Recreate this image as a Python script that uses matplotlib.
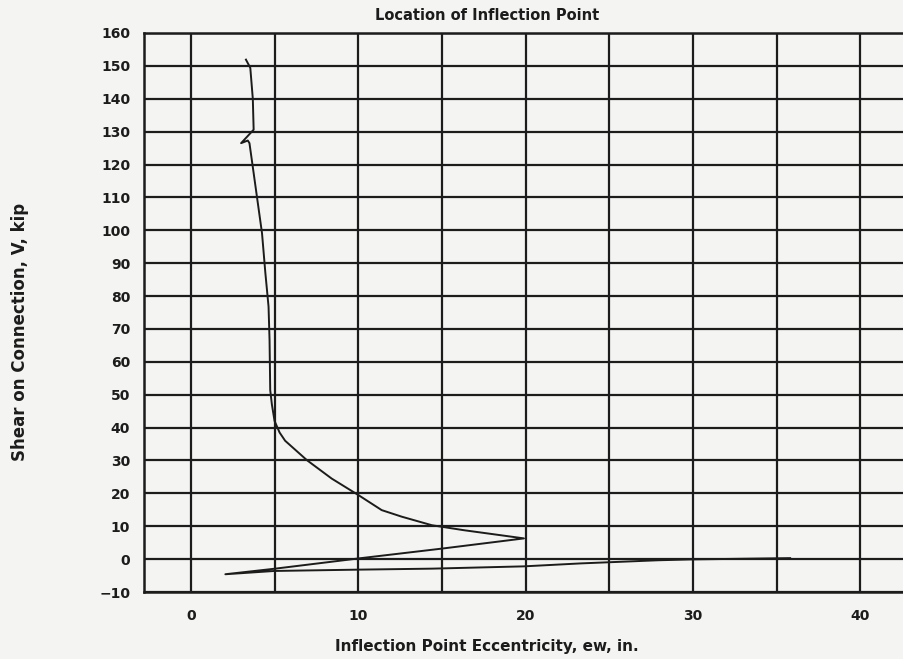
import matplotlib
matplotlib.use("Agg")
import matplotlib.pyplot as plt
from matplotlib.ticker import MultipleLocator

# Data (eccentricity in inches vs shear in kip)
ecc = [3.29, 3.55, 3.7, 3.75, 3.0, 3.4, 3.5, 3.75, 4.25, 4.45, 4.64, 4.70,
       4.74, 4.84, 5.0, 5.3, 5.63, 6.93, 8.41, 10.0, 11.4, 12.6, 14.4, 16.3,
       19.9, 15.0, 10.0, 5.04, 2.06, 5.0, 10.0, 14.4, 19.9, 23.3, 27.9, 29.8,
       35.8]
shear = [151.9, 149.4, 140.0, 130.6, 126.5, 127.3, 126.5, 117.4, 99.1, 87.0,
         76.8, 66.6, 51.4, 47.0, 42.0, 38.5, 36.0, 30.1, 24.5, 19.5, 14.9,
         12.9, 10.3, 8.8, 6.3, 3.2, 0.2, -2.9, -4.6, -3.6, -3.2, -2.9, -2.2,
         -1.3, -0.35, -0.1, 0.3]

x_ticks = [0, 10, 20, 30, 40]
y_ticks = list(range(-10, 161, 10))

title = "Location of Inflection Point"
xlabel = "Inflection Point Eccentricity, ew, in."
ylabel = "Shear on Connection, V, kip"

bg = "#f4f4f2"
ink = "#1c1c1c"

W, H = 904, 659
fig = plt.figure(figsize=(W / 100, H / 100), dpi=100, facecolor=bg)
ax = fig.add_axes([144 / W, 1 - 592 / H, (W - 144) / W, (592 - 33) / H])
ax.set_facecolor(bg)

ax.set_xlim(-2.8, 42.6)
ax.set_ylim(-10, 160)
ax.set_xticks(x_ticks)
ax.xaxis.set_minor_locator(MultipleLocator(5))
ax.set_yticks(y_ticks)

ax.grid(True, which="both", color=ink, linewidth=1.6)
ax.set_axisbelow(True)
ax.tick_params(which="both", length=0)
ax.tick_params(axis="y", pad=10, labelsize=10, colors=ink)
ax.tick_params(axis="x", pad=12, labelsize=10, colors=ink)
for lab in ax.get_xticklabels() + ax.get_yticklabels():
    lab.set_fontweight("bold")

for side in ["left", "top", "bottom"]:
    ax.spines[side].set_color(ink)
    ax.spines[side].set_linewidth(1.8)
ax.spines["right"].set_visible(False)

ax.plot(ecc, shear, color=ink, linewidth=1.4, zorder=3)

fig.text(487 / W, 1 - 15 / H, title, ha="center", va="center",
         fontsize=10.5, fontweight="bold", color=ink)
fig.text(487 / W, 1 - 647 / H, xlabel, ha="center", va="center",
         fontsize=11, fontweight="bold", color=ink)
fig.text(20 / W, 1 - 332 / H, ylabel, ha="center", va="center",
         rotation=90, fontsize=12, fontweight="bold", color=ink)

fig.savefig("out.png", dpi=100, facecolor=bg)
